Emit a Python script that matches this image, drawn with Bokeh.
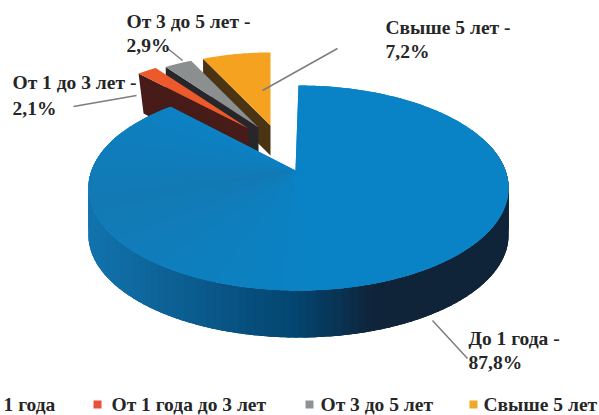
import numpy as np
from bokeh.core.properties import value
from bokeh.embed import file_html
from bokeh.models import Range1d
from bokeh.plotting import figure
from bokeh.resources import INLINE

# Shares of the term groups, in percent
legend_names = ["1 года", "От 1 года до 3 лет", "От 3 до 5 лет", "Свыше 5 лет"]
callouts = ["До 1 года", "От 1 до 3 лет", "От 3 до 5 лет", "Свыше 5 лет"]
shares = [87.8, 2.1, 2.9, 7.2]

top_colors = ["#0a83c6", "#ec5a2c", "#8b8f90", "#f4a21f"]
wall_colors = ["#0f2438", "#471c18", "#27262a", "#4a3414"]
legend_colors = ["#0a83c6", "#e8503a", "#8f9294", "#f0a828"]

# Pie apex, drop of the side wall and scale of each slice on the page
apex_x = [295, 248, 258, 270]
apex_y = [170, 128, 127, 125]
slice_scale = [1.0, 0.86, 0.86, 0.86]
wall_depth = [47, 40, 32, 30]
wall_lean = [0, 5, 0, 0]
large_rim_shift = 3

# Callout text centres and leader lines
callout_x = [468, 12, 126, 385]
callout_y = [[338, 362], [82, 108], [21, 45], [27, 51]]
leader_x = [[432, 467], [136, 73], [182, 166], [262, 337]]
leader_y = [[320, 358], [95, 106], [60, 47], [90, 48]]

# Legend row; the first key square lies beyond the left page edge
legend_text_x = [3, 111, 320, 483]
legend_mark_x = [-40, 97, 309, 473]
legend_y = 404

RX, RY, TILT = 207.0, 99.5, 0.171


def project(theta, ax, ay, scale):
    """Map a rim angle (degrees clockwise from the back) onto the tilted disc."""
    t = np.radians(theta)
    w = 1 + TILT * np.cos(t)
    return ax + scale * RX * np.sin(t) / w, ay - scale * RY * np.cos(t) / w


def blend(c0, c1, f):
    a = np.array([int(c0[i:i + 2], 16) for i in (1, 3, 5)])
    b = np.array([int(c1[i:i + 2], 16) for i in (1, 3, 5)])
    r = (a + (b - a) * f).round().astype(int)
    return "#%02x%02x%02x" % tuple(r)


def rim_color(x):
    """Side shading of the large slice, from lit left to dark right."""
    if x < 300:
        return blend("#1273ad", "#03446f", np.clip((x - 90) / 210, 0, 1))
    return blend("#03446f", "#0f2438", np.clip((x - 300) / 75, 0, 1))


def face_color(theta):
    """Gentle darkening of the large slice's top towards the lower left."""
    f = np.clip(1 - abs(theta - 250) / 80, 0, 1)
    return blend(top_colors[0], "#1379b4", f)


p = figure(width=599, height=415, output_backend="svg", toolbar_location=None,
           x_range=Range1d(0, 599), y_range=Range1d(415, 0),
           min_border=0, outline_line_color=None, background_fill_color="white")
p.axis.visible = False
p.grid.visible = False

edges = 0.0
starts, ends = [], []
for s in shares:
    starts.append(edges)
    edges += s * 3.6
    ends.append(edges)

# Small exploded slices, back to front: cut wall first, then the top face
for i in (3, 2, 1):
    ax, ay, sc, d = apex_x[i], apex_y[i], slice_scale[i], wall_depth[i]
    ex, ey = project(starts[i], ax, ay, sc)
    ex, ey = float(ex), float(ey)
    p.patch([ex, ax, ax, ex + wall_lean[i]], [ey, ay, ay + d, ey + d],
            fill_color=wall_colors[i], line_color=None)
    th = np.linspace(starts[i], ends[i], 40)
    wx, wy = project(th, ax, ay, sc)
    p.patch(np.r_[ax, wx], np.r_[ay, wy], fill_color=top_colors[i], line_color=None)

# Large slice: rim built from overlapping shaded strips
ax, ay, d = apex_x[0], apex_y[0], wall_depth[0]
rim_ax = ax + large_rim_shift
rim = np.arange(70, 291, 2.0)
xs, ys, cols = [], [], []
for a0 in rim:
    th = np.linspace(a0, a0 + 5, 8)
    x, y = project(th, rim_ax, ay, 1.0)
    xs.append(np.r_[x, x[::-1]])
    ys.append(np.r_[y, y[::-1] + d])
    cols.append(rim_color(float(x[1])))
p.patches(xs, ys, fill_color=cols, line_color=None)

# Top face of the large slice: solid base, then shaded sectors from the apex
th = np.linspace(starts[0], ends[0], 300)
x, y = project(th, rim_ax, ay, 1.0)
p.patch(np.r_[ax, x], np.r_[ay, y], fill_color=top_colors[0], line_color=None)

fan_x, fan_y, fan_c = [], [], []
step = 8.0
a0 = starts[0]
while a0 < ends[0]:
    a1 = min(a0 + step + 3, ends[0])
    th = np.linspace(a0, a1, 14)
    x, y = project(th, rim_ax, ay, 1.0)
    fan_x.append(np.r_[ax, x])
    fan_y.append(np.r_[ay, y])
    fan_c.append(face_color(a0 + step / 2))
    a0 += step
p.patches(fan_x, fan_y, fill_color=fan_c, line_color=None)

# Leader lines
p.multi_line(leader_x, leader_y, line_color="#7d7d7d", line_width=1.5)

font = value("Liberation Serif")
label_style = dict(text_font=font, text_font_style="bold", text_font_size="19.5px",
                   text_color="#262626", text_align="left", text_baseline="middle")

# Callouts: name on the first row, share on the second
for name, s, x, (y0, y1) in zip(callouts, shares, callout_x, callout_y):
    p.text([x], [y0], text=[f"{name} -"], **label_style)
    p.text([x], [y1], text=[f"{s:.1f}%".replace(".", ",")], **label_style)

# Legend
p.scatter(legend_mark_x, [legend_y] * 4, marker="square", size=8,
          fill_color=legend_colors, line_color=None)
p.text(legend_text_x, [legend_y] * 4, text=legend_names, **label_style)

open("out.html", "w").write(file_html(p, INLINE))
